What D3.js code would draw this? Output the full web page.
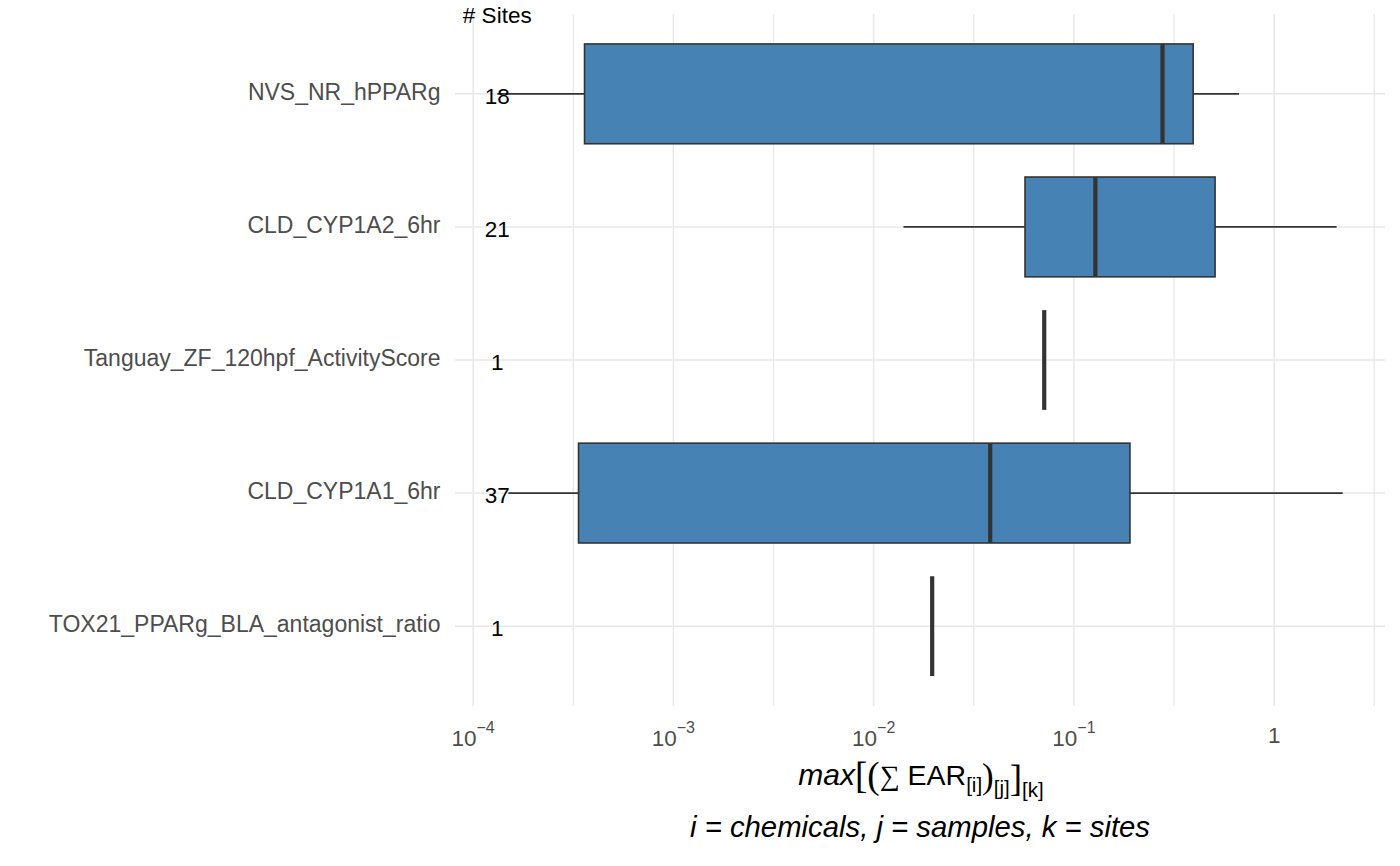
<!DOCTYPE html>
<html>
<head>
<meta charset="utf-8">
<script src="https://cdn.jsdelivr.net/npm/d3@7"></script>
<style>
  body { margin: 0; background: #fff; }
  svg { font-family: "Liberation Sans", Arial, sans-serif; }
</style>
</head>
<body>
<div id="rootContainer"></div>
<script>
// Box statistics (values on a log10 axis)
var categories = ["NVS_NR_hPPARg", "CLD_CYP1A2_6hr", "Tanguay_ZF_120hpf_ActivityScore",
                  "CLD_CYP1A1_6hr", "TOX21_PPARg_BLA_antagonist_ratio"];
var siteCounts = [18, 21, 1, 37, 1];
var whiskerLow  = [0.000132, 0.0141, 0.0711, 0.000150, 0.0196];
var quartile1   = [0.000360, 0.0570, 0.0711, 0.000336, 0.0196];
var medians     = [0.277, 0.128, 0.0711, 0.0382, 0.0196];
var quartile3   = [0.394, 0.507, 0.0711, 0.1905, 0.0196];
var whiskerHigh = [0.668, 2.05, 0.0711, 2.20, 0.0196];
var majorTicks = [1e-4, 1e-3, 1e-2, 1e-1, 1];

var rows = categories.map(function(c, i) {
  return { name: c, n: siteCounts[i], lo: whiskerLow[i], q1: quartile1[i],
           med: medians[i], q3: quartile3[i], hi: whiskerHigh[i] };
});

drawChart(rows);

function drawChart(data) {
  var width = 1400, height = 866;
  var panel = { left: 455, right: 1385, top: 14, bottom: 706 };

  var svg = d3.select("#rootContainer").append("svg")
      .attr("width", width)
      .attr("height", height);

  // log scale with ggplot's 5% expansion
  var logMin = Math.log10(d3.min(data, d => d.lo)),
      logMax = Math.log10(d3.max(data, d => d.hi)),
      pad = (logMax - logMin) * 0.05;
  var x = d3.scaleLog()
      .domain([Math.pow(10, logMin - pad), Math.pow(10, logMax + pad)])
      .range([panel.left, panel.right]);

  var y = d3.scalePoint()
      .domain(categories)
      .range([panel.top, panel.bottom])
      .padding(0.6);
  var step = y.step();
  var boxH = step * 0.75;

  // grid
  var minorTicks = majorTicks.map(t => t * Math.sqrt(10))
      .filter(t => t <= x.domain()[1]);
  var grid = svg.append("g");
  grid.selectAll(".minor").data(minorTicks).enter().append("line")
      .attr("x1", d => x(d)).attr("x2", d => x(d))
      .attr("y1", panel.top).attr("y2", panel.bottom)
      .attr("stroke", "#e8e8e8").attr("stroke-width", 1.3);
  grid.selectAll(".major").data(majorTicks).enter().append("line")
      .attr("x1", d => x(d)).attr("x2", d => x(d))
      .attr("y1", panel.top).attr("y2", panel.bottom)
      .attr("stroke", "#e8e8e8").attr("stroke-width", 1.5);
  grid.selectAll(".hgrid").data(categories).enter().append("line")
      .attr("x1", panel.left).attr("x2", panel.right)
      .attr("y1", d => y(d)).attr("y2", d => y(d))
      .attr("stroke", "#e8e8e8").attr("stroke-width", 1.5);

  // boxplots
  var boxes = svg.append("g").selectAll("g").data(data).enter().append("g");
  boxes.append("line")
      .attr("x1", d => x(d.lo)).attr("x2", d => x(d.q1))
      .attr("y1", d => y(d.name)).attr("y2", d => y(d.name))
      .attr("stroke", "#333333").attr("stroke-width", 1.6);
  boxes.append("line")
      .attr("x1", d => x(d.q3)).attr("x2", d => x(d.hi))
      .attr("y1", d => y(d.name)).attr("y2", d => y(d.name))
      .attr("stroke", "#333333").attr("stroke-width", 1.6);
  boxes.append("rect")
      .attr("x", d => x(d.q1))
      .attr("width", d => x(d.q3) - x(d.q1))
      .attr("y", d => y(d.name) - boxH / 2)
      .attr("height", boxH)
      .attr("fill", "steelblue")
      .attr("stroke", "#333333").attr("stroke-width", 1.6);
  boxes.append("line")
      .attr("x1", d => x(d.med)).attr("x2", d => x(d.med))
      .attr("y1", d => y(d.name) - boxH / 2).attr("y2", d => y(d.name) + boxH / 2)
      .attr("stroke", "#333333").attr("stroke-width", 4.2);

  // site counts
  var labelX = x(d3.min(data, d => d.lo));
  svg.append("g").selectAll("text").data(data).enter().append("text")
      .attr("x", labelX)
      .attr("y", d => y(d.name))
      .attr("dy", "0.45em")
      .attr("text-anchor", "middle")
      .attr("font-size", "22.5px")
      .attr("fill", "#000")
      .text(d => d.n);
  svg.append("text")
      .attr("x", labelX)
      .attr("y", y(categories[0]) - step * 0.53)
      .attr("text-anchor", "middle")
      .attr("font-size", "22.5px")
      .attr("fill", "#000")
      .text("# Sites");

  // y axis labels
  svg.append("g").selectAll("text").data(categories).enter().append("text")
      .attr("x", 440.5)
      .attr("y", d => y(d))
      .attr("dy", "0.27em")
      .attr("text-anchor", "end")
      .attr("font-size", "23px")
      .attr("fill", "#4d4d4d")
      .text(d => d);

  // x axis tick labels (10^k)
  var tickG = svg.append("g").selectAll("text").data(majorTicks).enter().append("text")
      .attr("x", d => x(d))
      .attr("text-anchor", "middle")
      .attr("fill", "#4d4d4d");
  tickG.each(function(d) {
    var t = d3.select(this);
    var e = Math.round(Math.log10(d));
    if (e === 0) {
      t.attr("y", 742.5).attr("font-size", "22.5px").text("1");
    } else {
      t.attr("y", 746);
      t.append("tspan").attr("font-size", "22.5px").text("10");
      t.append("tspan").attr("font-size", "16px").attr("dy", -13).text("\u2212" + (-e));
    }
  });

  // x axis title: max[(sum EAR[i])[j]][k]
  var cx = (panel.left + panel.right) / 2;
  var title = svg.append("text")
      .attr("x", cx + 1)
      .attr("y", 785)
      .attr("text-anchor", "middle")
      .attr("fill", "#000")
      .attr("font-size", "28.5px");
  var serif = "'Liberation Serif', 'Times New Roman', serif";
  title.append("tspan").attr("font-style", "italic").attr("font-size", "30px").text("max");
  title.append("tspan").attr("font-family", serif).attr("font-size", "37px").attr("dy", 3).text("[(");
  title.append("tspan").attr("font-family", serif).attr("font-size", "28px").attr("dy", -3).text("\u2211");
  title.append("tspan").text(" EAR");
  title.append("tspan").attr("font-size", "20.5px").attr("dy", 7).text("[i]");
  title.append("tspan").attr("font-family", serif).attr("font-size", "35px").attr("dy", -4).text(")");
  title.append("tspan").attr("font-size", "20.5px").attr("dy", 7).text("[j]");
  title.append("tspan").attr("font-family", serif).attr("font-size", "37px").attr("dy", -4).text("]");
  title.append("tspan").attr("font-size", "20.5px").attr("dy", 6).text("[k]");

  svg.append("text")
      .attr("x", cx)
      .attr("y", 837)
      .attr("text-anchor", "middle")
      .attr("font-style", "italic")
      .attr("font-size", "29.3px")
      .attr("fill", "#000")
      .text("i = chemicals, j = samples, k = sites");
}
</script>
</body>
</html>
